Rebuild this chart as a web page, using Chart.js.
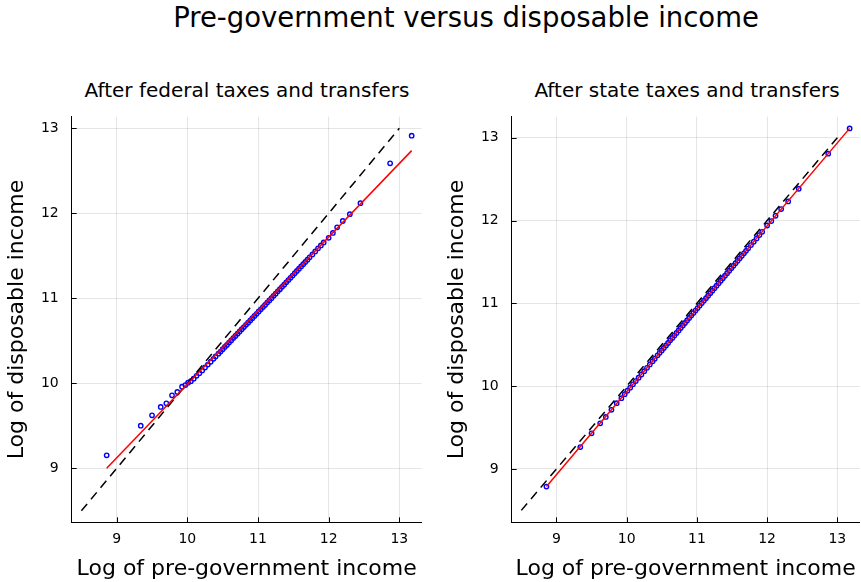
<!DOCTYPE html>
<html><head><meta charset="utf-8">
<script src="https://cdn.jsdelivr.net/npm/chart.js@4"></script>
<style>
 body { margin:0; width:861px; height:582px; background:#fff; font-family:"DejaVu Sans", sans-serif; position:relative; overflow:hidden; }
 .txt { position:absolute; transform:translate(-50%,-50%); white-space:nowrap; color:#000; }
 .box { position:absolute; }
</style>
</head>
<body>
<div class="txt" style="left:466px;top:17px;font-size:27.5px;">Pre-government versus disposable income</div>
<div class="txt" style="left:247px;top:90px;font-size:20px;">After federal taxes and transfers</div>
<div class="txt" style="left:687px;top:90px;font-size:20px;">After state taxes and transfers</div>
<div class="box" style="left:0;top:100px;width:430px;height:482px;"><canvas id="fed"></canvas></div>
<div class="box" style="left:440px;top:100px;width:425px;height:482px;"><canvas id="state"></canvas></div>
<script>
// log of pre-government income (percentile points)
var preIncome = [8.858, 9.34, 9.50, 9.623, 9.703, 9.783, 9.858, 9.925, 9.972, 10.01,
  10.05, 10.09, 10.13, 10.17, 10.21, 10.25, 10.29, 10.33, 10.37, 10.40,
  10.44, 10.47, 10.50, 10.53, 10.56, 10.59, 10.62, 10.65, 10.68, 10.71,
  10.74, 10.77, 10.80, 10.83, 10.86, 10.89, 10.92, 10.95, 10.98, 11.01,
  11.04, 11.07, 11.10, 11.13, 11.16, 11.19, 11.22, 11.25, 11.28, 11.31,
  11.34, 11.37, 11.40, 11.43, 11.46, 11.49, 11.52, 11.55, 11.58, 11.61,
  11.64, 11.67, 11.70, 11.73, 11.77, 11.81, 11.85, 11.89, 11.93, 12.00,
  12.06, 12.12, 12.20, 12.30, 12.45, 12.87, 13.175];

// log of disposable income after federal taxes and transfers
var fedIncome = [9.153, 9.502, 9.624, 9.722, 9.765, 9.859, 9.898, 9.961, 9.980, 10.008,
  10.025, 10.055, 10.088, 10.120, 10.152, 10.186, 10.221, 10.254, 10.288, 10.316,
  10.349, 10.374, 10.401, 10.428, 10.452, 10.479, 10.505, 10.532, 10.557, 10.584,
  10.610, 10.636, 10.662, 10.688, 10.714, 10.740, 10.766, 10.792, 10.818, 10.845,
  10.871, 10.897, 10.923, 10.950, 10.976, 11.002, 11.029, 11.055, 11.082, 11.108,
  11.135, 11.161, 11.188, 11.215, 11.241, 11.268, 11.295, 11.322, 11.349, 11.375,
  11.402, 11.428, 11.455, 11.482, 11.517, 11.552, 11.588, 11.623, 11.658, 11.712,
  11.770, 11.835, 11.910, 11.990, 12.120, 12.588, 12.914];

// log of disposable income after state taxes and transfers
var stateIncome = [8.787, 9.264, 9.431, 9.551, 9.629, 9.714, 9.795, 9.855, 9.903, 9.945,
  9.982, 10.022, 10.062, 10.102, 10.141, 10.181, 10.222, 10.262, 10.302, 10.332,
  10.372, 10.402, 10.432, 10.462, 10.492, 10.522, 10.553, 10.583, 10.613, 10.643,
  10.673, 10.703, 10.733, 10.763, 10.793, 10.823, 10.853, 10.883, 10.913, 10.943,
  10.973, 11.003, 11.033, 11.063, 11.093, 11.123, 11.153, 11.183, 11.213, 11.243,
  11.273, 11.303, 11.334, 11.364, 11.394, 11.424, 11.454, 11.484, 11.514, 11.544,
  11.574, 11.604, 11.634, 11.664, 11.704, 11.744, 11.784, 11.824, 11.864, 11.940,
  11.994, 12.058, 12.139, 12.231, 12.384, 12.807, 13.113];

// fitted lines (end points) and the 45 degree line
var fitX = [8.858, 13.175];
var fedFitY = [9.0, 12.738];
var stateFitY = [8.787, 13.113];
var diagX = [8.5, 13];
var diagY = [8.5, 13];

var tickVals = [9, 10, 11, 12, 13];

function pts(xs, ys) {
  return xs.map(function (x, i) { return { x: x, y: ys[i] }; });
}

// ticks drawn inward, GR style
var innerTicks = {
  id: 'innerTicks',
  afterDraw: function (chart) {
    var c = chart.ctx, a = chart.chartArea;
    var xs = chart.scales.x, ys = chart.scales.y;
    c.save();
    c.strokeStyle = '#000';
    c.lineWidth = 1;
    c.beginPath();
    tickVals.forEach(function (v) {
      var px = Math.round(xs.getPixelForValue(v)) + 0.5;
      if (px >= a.left && px <= a.right) { c.moveTo(px, a.bottom); c.lineTo(px, a.bottom - 5); }
      var py = Math.round(ys.getPixelForValue(v)) + 0.5;
      if (py >= a.top && py <= a.bottom) { c.moveTo(a.left, py); c.lineTo(a.left + 5, py); }
    });
    c.stroke();
    c.restore();
  }
};

function makeChart(id, ys, fitY, yMin, yMax, padRight) {
  return new Chart(document.getElementById(id), {
    type: 'scatter',
    data: {
      datasets: [
        { data: pts(fitX, fitY), showLine: true, borderColor: '#ff0000', borderWidth: 1.5, pointRadius: 0, order: 1 },
        { data: pts(diagX, diagY), showLine: true, borderColor: '#000000', borderWidth: 1.5, borderDash: [9, 6], pointRadius: 0, order: 2 },
        { data: pts(preIncome, ys), showLine: false, pointRadius: 2.2, pointBorderWidth: 1.4, pointBorderColor: '#0000ff', pointBackgroundColor: 'rgba(255,255,255,0)', order: 3 }
      ]
    },
    options: {
      responsive: true, maintainAspectRatio: false, animation: false,
      layout: { padding: { top: 16.7, right: padRight, left: 0, bottom: 0 } },
      plugins: { legend: { display: false }, tooltip: { enabled: false } },
      scales: {
        x: {
          type: 'linear', min: 8.363, max: 13.317,
          afterBuildTicks: function (s) { s.ticks = tickVals.map(function (v) { return { value: v }; }); },
          afterFit: function (s) { s.height = 59.7; s.paddingLeft = 0; s.paddingRight = 0; },
          grid: { color: 'rgba(0,0,0,0.1)', drawTicks: false },
          border: { color: '#000', width: 1 },
          ticks: { color: '#000', font: { family: 'DejaVu Sans', size: 14 }, padding: 9, maxRotation: 0 },
          title: { display: true, text: 'Log of pre-government income', color: '#000', font: { family: 'DejaVu Sans', size: 22 }, padding: { top: 0, bottom: 0 } }
        },
        y: {
          type: 'linear', min: yMin, max: yMax,
          afterBuildTicks: function (s) { s.ticks = tickVals.map(function (v) { return { value: v }; }); },
          afterFit: function (s) { s.width = 71.7; s.paddingTop = 0; s.paddingBottom = 0; },
          grid: { color: 'rgba(0,0,0,0.1)', drawTicks: false },
          border: { color: '#000', width: 1 },
          ticks: { color: '#000', font: { family: 'DejaVu Sans', size: 14 }, padding: 13 },
          title: { display: true, text: 'Log of disposable income', color: '#000', font: { family: 'DejaVu Sans', size: 22 }, padding: { top: 4, bottom: 0 } }
        }
      }
    },
    plugins: [innerTicks]
  });
}

makeChart('fed', fedIncome, fedFitY, 8.365, 13.137, 8.3);
makeChart('state', stateIncome, stateFitY, 8.356, 13.254, 1);
</script>
</body></html>
